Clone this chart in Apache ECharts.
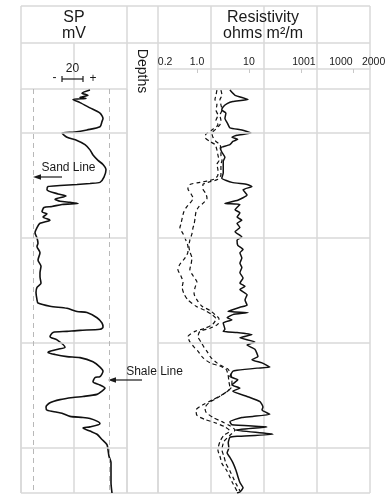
<!DOCTYPE html>
<html><head><meta charset="utf-8">
<script src="https://cdn.jsdelivr.net/npm/echarts@6/dist/echarts.min.js"></script>
<style>html,body{margin:0;padding:0;background:#fff}#c{width:389px;height:499px}</style>
</head><body><div id="c"></div><script>
// ---------- data ----------
const depthRange = [5058, 5443];            // ft, top and bottom of the plot
const depthGrid = [5100, 5200, 5300, 5400];  // depth grid lines
const spRange = [-106, 0];                   // mV
const spInterval = 53;
const spSandLine = -94;
const spShaleLine = -18;
const resRange = [0.178, 2130];              // ohm m2/m (log)
const resTickValues = [1, 10, 100, 1000];
const resLabelValues = [0.2, 1, 10, 100, 1000, 2000];
const resLabelTexts = ['0.2', '1.0', '10', '1001', '1000', '2000'];

// SP curve: [mV, depth]
const spLog = [[-37,5059],[-45,5062],[-39,5064],[-47,5066],[-41,5067],[-54,5068],[-47,5071],[-37,5076],[-27,5081],[-24,5086],[-25,5089],[-27,5094],[-40,5097],[-52,5099],[-65,5100],[-60,5104],[-50,5107],[-42,5111],[-37,5116],[-34,5121],[-29,5126],[-24,5130],[-21,5135],[-23,5142],[-27,5147],[-37,5148],[-50,5149],[-67,5150],[-79,5151],[-80,5154],[-69,5158],[-61,5160],[-72,5163],[-67,5165],[-57,5166],[-49,5167],[-65,5168],[-75,5170],[-83,5171],[-85,5175],[-80,5177],[-84,5180],[-77,5183],[-87,5186],[-90,5190],[-92,5195],[-90,5200],[-89,5205],[-90,5208],[-87,5214],[-89,5221],[-86,5227],[-87,5233],[-87,5237],[-86,5243],[-90,5247],[-91,5252],[-90,5259],[-89,5262],[-77,5265],[-60,5267],[-50,5270],[-40,5271],[-30,5276],[-25,5281],[-24,5285],[-27,5287],[-47,5288],[-60,5289],[-74,5290],[-77,5294],[-70,5297],[-62,5304],[-69,5306],[-77,5308],[-79,5309],[-72,5311],[-60,5313],[-47,5314],[-34,5318],[-27,5323],[-24,5327],[-27,5332],[-32,5333],[-34,5337],[-27,5340],[-22,5343],[-25,5346],[-30,5349],[-44,5351],[-54,5352],[-67,5354],[-77,5357],[-81,5361],[-80,5364],[-70,5366],[-65,5367],[-57,5370],[-44,5371],[-37,5372],[-29,5375],[-27,5377],[-37,5380],[-44,5381],[-37,5384],[-30,5387],[-25,5392],[-20,5397],[-19,5402],[-18,5408],[-16,5414],[-16,5421],[-16,5433],[-15,5443]];

// Deep resistivity (solid): [ohm m, depth]
const resDeep = [[4.3,5059],[5.4,5064],[9.6,5068],[4.9,5070],[3.8,5072],[3.2,5075],[3.0,5078],[3.6,5081],[3.45,5086],[3.8,5090],[4.3,5095],[7.3,5097],[10.9,5100],[5.9,5102],[4.7,5104],[6.1,5106],[4.9,5108],[4.3,5111],[3.2,5113],[2.8,5114],[3.0,5118],[3.45,5123],[3.2,5127],[3.2,5132],[3.2,5138],[3.0,5143],[4.7,5147],[9.2,5149],[11.4,5151],[7.7,5154],[9.2,5159],[6.1,5164],[3.45,5167],[6.7,5168],[5.4,5173],[6.7,5176],[5.9,5180],[7.3,5183],[5.9,5186],[6.7,5190],[5.4,5194],[7.3,5199],[5.9,5202],[6.1,5207],[7.7,5211],[6.7,5214],[7.3,5219],[6.7,5224],[7.3,5228],[6.7,5233],[7.7,5238],[6.7,5243],[8.4,5246],[6.7,5249],[9.2,5254],[8.4,5259],[9.2,5264],[6.7,5266],[3.95,5270],[9.6,5271],[4.9,5273],[3.8,5276],[4.7,5278],[3.2,5281],[3.45,5287],[3.2,5289],[5.9,5290],[11.4,5292],[6.7,5295],[13,5299],[9.2,5302],[13,5306],[14.9,5313],[11.4,5316],[17.8,5319],[25.3,5323],[14.3,5324],[5.9,5326],[4.9,5327],[4.3,5332],[6.1,5335],[4.7,5340],[6.7,5343],[4.9,5346],[9.2,5351],[16.3,5356],[18.6,5361],[17.8,5364],[25.3,5368],[11.9,5370],[7.3,5371],[4.3,5375],[4.7,5378],[22.2,5380],[5.4,5383],[29,5387],[5.9,5389],[4.3,5390],[4.0,5395],[4.1,5400],[3.8,5405],[4.3,5409],[4.9,5414],[5.6,5421],[6.1,5427],[6.7,5433],[7.7,5438],[6.7,5442],[5.9,5443]];

// Medium resistivity (dashed, right)
const resMedium = [[2.89,5059],[3.03,5064],[2.77,5068],[2.89,5073],[3.03,5078],[2.77,5083],[2.89,5088],[2.77,5092],[2.22,5097],[1.94,5100],[2.03,5104],[2.32,5108],[2.77,5111],[2.89,5116],[2.89,5121],[3.03,5126],[2.89,5130],[2.89,5135],[2.89,5140],[2.53,5144],[1.63,5147],[1.30,5149],[1.30,5153],[1.49,5158],[1.56,5162],[1.30,5167],[1.09,5170],[0.96,5175],[0.92,5181],[0.88,5187],[0.84,5190],[0.80,5196],[0.73,5202],[0.70,5208],[0.73,5213],[0.80,5219],[0.77,5225],[0.73,5230],[0.84,5236],[1.0,5242],[0.92,5247],[0.88,5253],[1.0,5259],[1.25,5265],[1.78,5269],[2.22,5273],[2.65,5277],[2.53,5282],[1.78,5286],[1.14,5289],[1.05,5294],[1.19,5299],[1.36,5304],[1.56,5308],[1.86,5314],[2.42,5319],[3.03,5322],[3.95,5325],[4.51,5330],[4.71,5337],[4.51,5343],[3.61,5347],[2.53,5352],[1.70,5357],[1.43,5362],[1.49,5366],[2.03,5371],[3.03,5375],[4.31,5379],[5.38,5383],[4.31,5388],[3.30,5394],[3.03,5402],[3.30,5408],[3.61,5415],[4.31,5422],[4.92,5428],[5.62,5434],[6.71,5441]];

// Shallow resistivity (dashed, left)
const resShallow = [[2.42,5059],[2.32,5064],[2.22,5068],[2.42,5073],[2.32,5078],[2.53,5083],[2.32,5088],[2.53,5092],[1.94,5097],[1.49,5101],[1.43,5104],[1.78,5108],[2.22,5111],[2.42,5116],[2.53,5121],[2.65,5126],[2.42,5130],[2.53,5135],[2.53,5140],[2.12,5144],[1.14,5147],[0.73,5149],[0.67,5153],[0.77,5158],[0.84,5162],[0.73,5167],[0.64,5170],[0.56,5175],[0.52,5181],[0.49,5187],[0.47,5190],[0.54,5196],[0.61,5202],[0.67,5208],[0.67,5213],[0.59,5219],[0.47,5225],[0.43,5230],[0.49,5236],[0.54,5242],[0.52,5247],[0.56,5253],[0.67,5259],[0.96,5265],[1.43,5269],[1.94,5273],[2.32,5277],[2.03,5282],[1.43,5286],[0.92,5289],[0.67,5294],[0.73,5299],[0.88,5304],[1.05,5308],[1.30,5314],[1.78,5319],[2.77,5322],[3.61,5325],[3.95,5330],[4.12,5337],[4.31,5343],[3.16,5349],[2.03,5354],[1.30,5359],[0.96,5364],[1.0,5369],[1.43,5373],[2.22,5376],[3.45,5380],[4.31,5384],[3.30,5388],[2.77,5394],[2.53,5402],[2.77,5408],[3.03,5415],[3.78,5422],[4.31,5428],[4.92,5434],[5.87,5441]];

// ---------- layout ----------
const X0 = 21, XSP = 127, XD = 158, X1 = 370;
const YT = 6, YH1 = 43, YH2 = 89, YB = 493;
const GC = '#d9d9d9', GW = 1.5;
const FONT = '"Liberation Sans", Arial, Helvetica, sans-serif';
const INK = '#1a1a1a';
const resCols = 4;
const resGridX = [];
for (let i = 0; i <= resCols; i++) resGridX.push(XD + i * (X1 - XD) / resCols);
const spMid = (X0 + XSP) / 2;

function hline(x1, x2, y) { return {type:'line', silent:true, z:0, shape:{x1:x1, y1:y, x2:x2, y2:y}, style:{stroke:GC, lineWidth:GW}}; }
function vline(x, y1, y2) { return {type:'line', silent:true, z:0, shape:{x1:x, y1:y1, x2:x, y2:y2}, style:{stroke:GC, lineWidth:GW}}; }
function txt(t, x, y, size, opts) { return Object.assign({type:'text', silent:true, z:5, x:x, y:y, style:{text:t, fill:INK, font:size + 'px ' + FONT, textAlign:'center', textVerticalAlign:'middle'}}, opts || {}); }
function ink(shape, type) { return {type:type, silent:true, z:5, shape:shape, style:type === 'polygon' ? {fill:INK} : {stroke:INK, lineWidth:1.2}}; }

const graphic = [
  hline(X0, X1, YT), hline(X0, X1, YH1), hline(X0, XSP, YH2), hline(XD, X1, YH2), hline(X0, X1, YB),
  vline(X0, YT, YB), vline(XSP, YT, YB), vline(XD, YT, YB),
  vline(spMid, YH1, YH2)
].concat(resGridX.slice(1).map(function (x) { return vline(x, YT, YH2); })).concat([
  txt('SP', 74, 17.5, 16), txt('mV', 74, 33.5, 16),
  txt('Resistivity', 263, 17.5, 16), txt('ohms m\u00b2/m', 263, 33.5, 16),
  txt('Depths', 142, 71, 14, {rotation: -Math.PI / 2}),
  txt('20', 72.5, 69, 12),
  txt('-', 54.5, 78, 12), txt('+', 93, 79, 12),
  ink({x1:62, y1:79, x2:83, y2:79}, 'line'),
  ink({x1:62, y1:76, x2:62, y2:82}, 'line'),
  ink({x1:83, y1:76, x2:83, y2:82}, 'line'),
  txt('Sand Line', 68.5, 168, 12),
  ink({x1:40, y1:177, x2:62, y2:177}, 'line'),
  ink({points:[[33,177],[41,174.3],[41,179.7]]}, 'polygon'),
  txt('Shale Line', 154.5, 372, 12),
  ink({x1:116, y1:380, x2:142, y2:380}, 'line'),
  ink({points:[[108,380],[116,377.3],[116,382.7]]}, 'polygon')
]);

const gridLineStyle = {color:GC, width:GW, type:'solid'};
const depthMarks = depthGrid.map(function (d) { return {yAxis:d, lineStyle:gridLineStyle}; });
const hidden = {axisLine:{show:false}, axisTick:{show:false}, axisLabel:{show:false}};

const richShift = {
  s0:{fontSize:10.5, color:INK, fontFamily:FONT, padding:[0,0,0,9]},
  s1:{fontSize:10.5, color:INK, fontFamily:FONT},
  s2:{fontSize:10.5, color:INK, fontFamily:FONT},
  s3:{fontSize:10.5, color:INK, fontFamily:FONT, padding:[0,0,0,6]},
  s4:{fontSize:10.5, color:INK, fontFamily:FONT, padding:[0,24,0,0]},
  s5:{fontSize:10.5, color:INK, fontFamily:FONT, padding:[0,0,0,10]}
};

const chart = echarts.init(document.getElementById('c'));
chart.setOption({
  animation:false,
  backgroundColor:'#fff',
  graphic:graphic,
  grid:[
    {left:X0, top:YH2, width:XSP - X0, height:YB - YH2},
    {left:XD, top:YH2, width:X1 - XD, height:YB - YH2}
  ],
  xAxis:[
    Object.assign({gridIndex:0, type:'value', min:spRange[0], max:spRange[1], interval:spInterval,
      splitLine:{show:true, lineStyle:gridLineStyle}}, hidden),
    Object.assign({gridIndex:1, type:'value', min:0, max:resCols, interval:1,
      splitLine:{show:true, lineStyle:gridLineStyle}}, hidden),
    {gridIndex:1, type:'log', logBase:10, min:resRange[0], max:resRange[1], position:'top', offset:20,
      splitLine:{show:false}, minorTick:{show:false},
      axisLine:{show:true, lineStyle:{color:GC, width:GW}},
      axisTick:{show:true, inside:true, length:4, customValues:resTickValues, lineStyle:{color:'#c8c8c8', width:1}},
      axisLabel:{show:true, margin:1, customValues:resLabelValues, fontSize:10.5, color:INK, fontFamily:FONT,
        rich:richShift,
        formatter:function (v) {
          for (let i = 0; i < resLabelValues.length; i++) {
            if (Math.abs(resLabelValues[i] - v) / resLabelValues[i] < 1e-6) return '{s' + i + '|' + resLabelTexts[i] + '}';
          }
          return '';
        }}}
  ],
  yAxis:[
    Object.assign({gridIndex:0, type:'value', inverse:true, min:depthRange[0], max:depthRange[1], splitLine:{show:false}}, hidden),
    Object.assign({gridIndex:1, type:'value', inverse:true, min:depthRange[0], max:depthRange[1], splitLine:{show:false}}, hidden)
  ],
  series:[
    {name:'SP', type:'line', xAxisIndex:0, yAxisIndex:0, data:spLog, showSymbol:false, symbol:'none', smooth:0.25,
      lineStyle:{color:'#111', width:1.6}, z:3,
      markLine:{silent:true, symbol:['none','none'], label:{show:false}, animation:false,
        data:depthMarks.concat([
          {xAxis:spSandLine, lineStyle:{color:'#b8b8b8', width:1, type:[5,4]}},
          {xAxis:spShaleLine, lineStyle:{color:'#b8b8b8', width:1, type:[5,4]}}
        ])}},
    {name:'Deep', type:'line', xAxisIndex:2, yAxisIndex:1, data:resDeep, showSymbol:false, symbol:'none', smooth:0.15,
      lineStyle:{color:'#111', width:1.5}, z:4,
      markLine:{silent:true, symbol:['none','none'], label:{show:false}, animation:false, data:depthMarks}},
    {name:'Medium', type:'line', xAxisIndex:2, yAxisIndex:1, data:resMedium, showSymbol:false, symbol:'none', smooth:0.25,
      lineStyle:{color:'#111', width:1.2, type:[4,3]}, z:3},
    {name:'Shallow', type:'line', xAxisIndex:2, yAxisIndex:1, data:resShallow, showSymbol:false, symbol:'none', smooth:0.25,
      lineStyle:{color:'#111', width:1.2, type:[4,3]}, z:3}
  ]
});
</script></body></html>
